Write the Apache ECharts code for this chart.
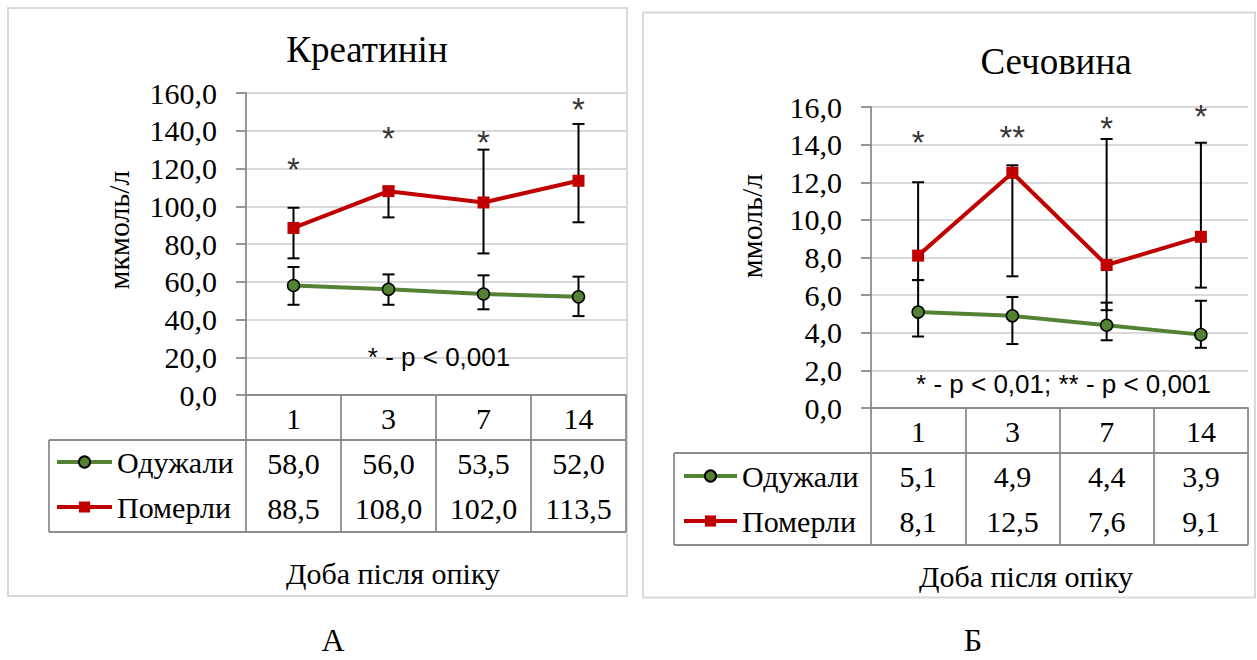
<!DOCTYPE html>
<html><head><meta charset="utf-8">
<script src="https://cdn.jsdelivr.net/npm/echarts@6/dist/echarts.min.js"></script>
<style>html,body{margin:0;padding:0;background:#fff}#c{width:1257px;height:660px}</style>
</head><body><div id="c"></div>
<script>
// ---------- data ----------
const days = ['1', '3', '7', '14'];
const seriesNames = ['Одужали', 'Померли'];
const xAxisTitle = 'Доба після опіку';
const panelLetters = ['А', 'Б'];

// Panel A: creatinine
const creatTitle = 'Креатинін';
const creatUnit = 'мкмоль/л';
const creatRecovered = [58.0, 56.0, 53.5, 52.0];
const creatRecoveredLow = [47.8, 47.8, 45.4, 41.8];
const creatRecoveredHigh = [67.8, 63.9, 63.4, 62.7];
const creatDied = [88.5, 108.0, 102.0, 113.5];
const creatDiedLow = [72.4, 94.1, 75.0, 91.5];
const creatDiedHigh = [99.2, 110.0, 130.0, 143.6];
const creatStars = ['*', '*', '*', '*'];
const creatStarY = [123.0, 139.5, 137.7, 155.0];
const creatNote = '* - p < 0,001';
const creatAxis = { min: 0, max: 160, interval: 20 };

// Panel B: urea
const ureaTitle = 'Сечовина';
const ureaUnit = 'ммоль/л';
const ureaRecovered = [5.1, 4.9, 4.4, 3.9];
const ureaRecoveredLow = [3.8, 3.4, 3.6, 3.2];
const ureaRecoveredHigh = [6.8, 5.9, 5.6, 5.7];
const ureaDied = [8.1, 12.5, 7.6, 9.1];
const ureaDiedLow = [6.8, 7.0, 5.2, 6.4];
const ureaDiedHigh = [12.0, 12.9, 14.3, 14.1];
const ureaStars = ['*', '**', '*', '*'];
const ureaStarY = [14.5, 14.75, 15.25, 15.85];
const ureaNote = '* - p < 0,01; ** - p < 0,001';
const ureaAxis = { min: 0, max: 16, interval: 2 };

// ---------- styling ----------
const SERIF = 'Liberation Serif';
const SANS = 'Liberation Sans';
const GREEN = '#548235';
const RED = '#C00000';
const AXIS_GRAY = '#8c8c8c';
const GRID_GRAY = '#d9d9d9';
const fmt = v => v.toFixed(1).replace('.', ',');

const grids = [
  { left: 246, top: 93, width: 380, height: 302 },
  { left: 871, top: 107, width: 377, height: 301 }
];

function errRender(params, api) {
  const lo = api.coord([api.value(0), api.value(1)]);
  const hi = api.coord([api.value(0), api.value(2)]);
  const w = 6;
  const style = { stroke: '#000', lineWidth: 2, fill: null };
  return {
    type: 'group', children: [
      { type: 'line', shape: { x1: hi[0], y1: hi[1], x2: lo[0], y2: lo[1] }, style },
      { type: 'line', shape: { x1: hi[0] - w, y1: hi[1], x2: hi[0] + w, y2: hi[1] }, style },
      { type: 'line', shape: { x1: lo[0] - w, y1: lo[1], x2: lo[0] + w, y2: lo[1] }, style }
    ]
  };
}

function panelSeries(gi, rec, recLo, recHi, died, diedLo, diedHi, stars, starY) {
  const lineCommon = { xAxisIndex: gi, yAxisIndex: gi, type: 'line', z: 4, animation: false, silent: true };
  return [
    {
      type: 'custom', name: 'err-rec-' + gi, xAxisIndex: gi, yAxisIndex: gi, z: 2, silent: true, animation: false,
      renderItem: errRender, encode: { x: 0, y: [1, 2] },
      data: days.map((d, i) => [i, recLo[i], recHi[i]])
    },
    {
      type: 'custom', name: 'err-died-' + gi, xAxisIndex: gi, yAxisIndex: gi, z: 2, silent: true, animation: false,
      renderItem: errRender, encode: { x: 0, y: [1, 2] },
      data: days.map((d, i) => [i, diedLo[i], diedHi[i]])
    },
    Object.assign({}, lineCommon, {
      name: seriesNames[0], data: rec,
      symbol: 'circle', symbolSize: 12,
      lineStyle: { color: GREEN, width: 4 },
      itemStyle: { color: GREEN, borderColor: '#000', borderWidth: 1.5 }
    }),
    Object.assign({}, lineCommon, {
      name: seriesNames[1], data: died,
      symbol: 'rect', symbolSize: 12,
      lineStyle: { color: RED, width: 4 },
      itemStyle: { color: RED, borderColor: RED, borderWidth: 0 }
    }),
    {
      type: 'scatter', name: 'stars-' + gi, xAxisIndex: gi, yAxisIndex: gi, z: 5, silent: true, animation: false,
      symbol: 'circle', symbolSize: 1, itemStyle: { color: 'rgba(0,0,0,0)' },
      data: days.map((d, i) => [i, starY[i], stars[i]]),
      label: {
        show: true, position: 'inside', formatter: p => p.value[2], offset: [0, 7],
        fontFamily: SANS, fontSize: 33, color: '#000'
      }
    }
  ];
}

function yAxis(gi, ax) {
  return {
    type: 'value', gridIndex: gi, min: ax.min, max: ax.max, interval: ax.interval,
    axisLine: { show: true, lineStyle: { color: AXIS_GRAY, width: 1.8 } },
    axisTick: { show: true, length: 10, lineStyle: { color: AXIS_GRAY, width: 1.8 } },
    splitLine: { show: true, lineStyle: { color: GRID_GRAY, width: 1.8 } },
    axisLabel: { formatter: fmt, margin: 29, fontFamily: SERIF, fontSize: 30, color: '#000' }
  };
}
function xAxis(gi) {
  return {
    type: 'category', gridIndex: gi, data: days, boundaryGap: true,
    axisLine: { show: true, lineStyle: { color: AXIS_GRAY, width: 1.8 } },
    axisTick: { show: true, alignWithLabel: false, interval: 0, length: 137, lineStyle: { color: AXIS_GRAY, width: 1.8 } },
    splitLine: { show: false },
    axisLabel: { interval: 0, margin: 8, fontFamily: SERIF, fontSize: 30, lineHeight: 30, color: '#000' }
  };
}

const chart = echarts.init(document.getElementById('c'), null, { renderer: 'svg' });
const legendText = { fontFamily: SERIF, fontSize: 30, color: '#000', lineHeight: 30 };
const legendCommon = { orient: 'vertical', padding: 0, itemWidth: 55, itemHeight: 14, itemGap: 15, data: seriesNames,
  textStyle: legendText, selectedMode: false, lineStyle: { width: 4 } };
chart.setOption({
  animation: false,
  grid: grids,
  xAxis: [xAxis(0), xAxis(1)],
  yAxis: [yAxis(0, creatAxis), yAxis(1, ureaAxis)],
  legend: [
    Object.assign({ left: 55, top: 447 }, legendCommon),
    Object.assign({ left: 682, top: 461 }, legendCommon, { itemWidth: 53 })
  ],
  series: [].concat(
    panelSeries(0, creatRecovered, creatRecoveredLow, creatRecoveredHigh, creatDied, creatDiedLow, creatDiedHigh, creatStars, creatStarY),
    panelSeries(1, ureaRecovered, ureaRecoveredLow, ureaRecoveredHigh, ureaDied, ureaDiedLow, ureaDiedHigh, ureaStars, ureaStarY)
  )
});

// ---------- table, titles, frames ----------
const panels = [
  { gi: 0, rows: [creatRecovered, creatDied], title: creatTitle, unit: creatUnit, note: creatNote, noteY: 20,
    frame: [8, 8, 619, 588], tableLeft: 49, titlePos: [367, 49.5], unitPos: [118, 230], xTitlePos: [393, 573], letterPos: [333, 640] },
  { gi: 1, rows: [ureaRecovered, ureaDied], title: ureaTitle, unit: ureaUnit, note: ureaNote, noteY: 1.25,
    frame: [643, 12.5, 612, 585], tableLeft: 674, titlePos: [1056, 61], unitPos: [751, 226], xTitlePos: [1026, 576], letterPos: [973, 640] }
];
const graphics = [];
panels.forEach((p, k) => {
  const g = grids[p.gi];
  const axisY = g.top + g.height;
  const right = g.left + g.width;
  const lineStyle = { stroke: AXIS_GRAY, lineWidth: 1.8 };
  graphics.push({ type: 'rect', shape: { x: p.frame[0], y: p.frame[1], width: p.frame[2], height: p.frame[3] },
    style: { fill: null, stroke: GRID_GRAY, lineWidth: 2 }, silent: true, z: 0 });
  graphics.push({ type: 'line', shape: { x1: p.tableLeft, y1: axisY + 45, x2: right, y2: axisY + 45 }, style: lineStyle, silent: true });
  graphics.push({ type: 'line', shape: { x1: p.tableLeft, y1: axisY + 137, x2: right, y2: axisY + 137 }, style: lineStyle, silent: true });
  graphics.push({ type: 'line', shape: { x1: p.tableLeft, y1: axisY + 45, x2: p.tableLeft, y2: axisY + 137 }, style: lineStyle, silent: true });
  p.rows.forEach((row, r) => {
    row.forEach((v, i) => {
      const px = chart.convertToPixel({ xAxisIndex: p.gi }, i);
      graphics.push({ type: 'text', x: px, y: axisY + 68 + r * 45, silent: true,
        style: { text: fmt(v), fontFamily: SERIF, fontSize: 30, fill: '#000', align: 'center', verticalAlign: 'middle' } });
    });
  });
  const noteY = chart.convertToPixel({ yAxisIndex: p.gi }, p.noteY);
  graphics.push({ type: 'text', x: g.left + g.width / 2 + (k === 0 ? 3 : 4), y: noteY, silent: true,
    style: { text: p.note, fontFamily: SANS, fontSize: 26, fill: '#000', align: 'center', verticalAlign: 'middle' } });
  graphics.push({ type: 'text', x: p.titlePos[0], y: p.titlePos[1], silent: true,
    style: { text: p.title, fontFamily: SERIF, fontSize: 37, fill: '#000', align: 'center', verticalAlign: 'middle' } });
  graphics.push({ type: 'text', x: p.unitPos[0], y: p.unitPos[1], rotation: Math.PI / 2, silent: true,
    style: { text: p.unit, fontFamily: SERIF, fontSize: 30, fill: '#000', align: 'center', verticalAlign: 'middle' } });
  graphics.push({ type: 'text', x: p.xTitlePos[0], y: p.xTitlePos[1], silent: true,
    style: { text: xAxisTitle, fontFamily: SERIF, fontSize: 30, fill: '#000', align: 'center', verticalAlign: 'middle' } });
  graphics.push({ type: 'text', x: p.letterPos[0], y: p.letterPos[1], silent: true,
    style: { text: panelLetters[k], fontFamily: SERIF, fontSize: 32, fill: '#000', align: 'center', verticalAlign: 'middle' } });
});
chart.setOption({ graphic: graphics });
</script>
</body></html>
